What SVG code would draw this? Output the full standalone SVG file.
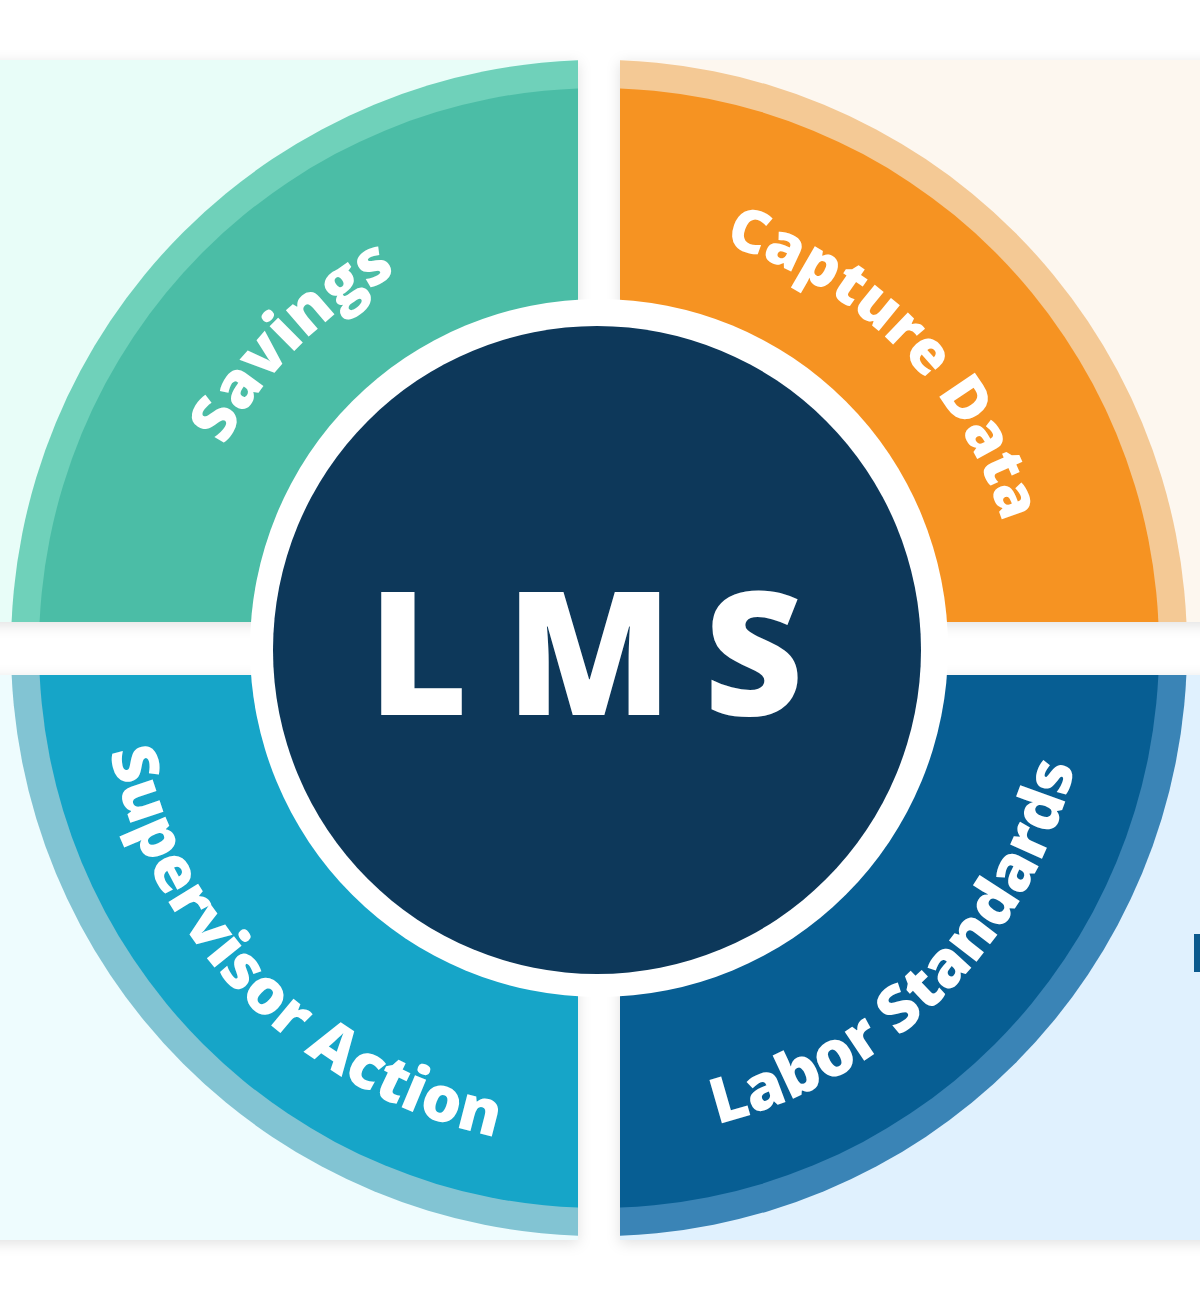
<svg xmlns="http://www.w3.org/2000/svg" width="1200" height="1289" viewBox="0 0 1200 1289">
  <style>
    .lbl { font-family: "Open Sans", "Liberation Sans", sans-serif; font-weight: 800; font-size: 63px; fill: #ffffff; }
    .sm { font-size: 60px; }
    .lms { font-family: "Open Sans", "Liberation Sans", sans-serif; font-weight: 800; font-size: 172px; fill: #ffffff; }
  </style>
  <defs>
    <filter id="shadow" x="-10%" y="-10%" width="120%" height="120%">
      <feDropShadow dx="0" dy="3" stdDeviation="7" flood-color="#000000" flood-opacity="0.12"/>
    </filter>
    <clipPath id="clipTL"><rect x="-20" y="60" width="598" height="562"/></clipPath>
    <clipPath id="clipTR"><rect x="620" y="60" width="600" height="562"/></clipPath>
    <clipPath id="clipBL"><rect x="-20" y="675" width="598" height="565"/></clipPath>
    <clipPath id="clipBR"><rect x="620" y="675" width="600" height="565"/></clipPath>
    <path id="arcTL" d="M273.4,921.2 A425,425 0 0 1 872.2,322.4"/>
    <path id="arcTR" d="M327.7,324.7 A422,422 0 0 1 922.3,919.3"/>
    <path id="arcBL" d="M216.0,326.6 A500,500 0 0 0 920.4,1031.0"/>
    <path id="arcBR" d="M284.0,1023.4 A490,490 0 0 0 974.4,333.0"/>
  </defs>
  <rect x="0" y="0" width="1200" height="1289" fill="#ffffff"/>

  <g id="savings">
    <rect x="-20" y="60" width="598" height="562" fill="#E8FDF8" filter="url(#shadow)"/>
    <g clip-path="url(#clipTL)">
      <circle cx="599" cy="648" r="588" fill="#6FD1BA"/>
      <circle cx="599" cy="648" r="560" fill="#4BBDA6"/>
    </g>
    <text class="lbl"><textPath href="#arcTL" startOffset="50%" text-anchor="middle">Savings</textPath></text>
  </g>

  <g id="capture-data">
    <rect x="620" y="60" width="600" height="562" fill="#FDF7EF" filter="url(#shadow)"/>
    <g clip-path="url(#clipTR)">
      <circle cx="599" cy="648" r="588" fill="#F4C995"/>
      <circle cx="599" cy="648" r="560" fill="#F69322"/>
    </g>
    <text class="lbl sm"><textPath href="#arcTR" startOffset="50%" text-anchor="middle">Capture Data</textPath></text>
  </g>

  <g id="supervisor-action">
    <rect x="-20" y="675" width="598" height="565" fill="#EEFCFE" filter="url(#shadow)"/>
    <g clip-path="url(#clipBL)">
      <circle cx="599" cy="648" r="588" fill="#82C4D3"/>
      <circle cx="599" cy="648" r="560" fill="#16A5C8"/>
    </g>
    <text class="lbl"><textPath href="#arcBL" startOffset="50%" text-anchor="middle">Supervisor Action</textPath></text>
  </g>

  <g id="labor-standards">
    <rect x="620" y="675" width="600" height="565" fill="#E0F1FE" filter="url(#shadow)"/>
    <g clip-path="url(#clipBR)">
      <circle cx="599" cy="648" r="588" fill="#3A84B6"/>
      <circle cx="599" cy="648" r="560" fill="#075E93"/>
    </g>
    <text class="lbl"><textPath href="#arcBR" startOffset="50%" text-anchor="middle">Labor Standards</textPath></text>
    <rect x="1194" y="934" width="6" height="38" fill="#0B5A8E"/>
  </g>

  <g id="lms">
    <circle cx="599" cy="648" r="349" fill="#ffffff"/>
    <circle cx="597" cy="650" r="324" fill="#0D385A"/>
    <text class="lms" x="368 506 704" y="715">LMS</text>
  </g>

  <g id="connectors"/>
</svg>
